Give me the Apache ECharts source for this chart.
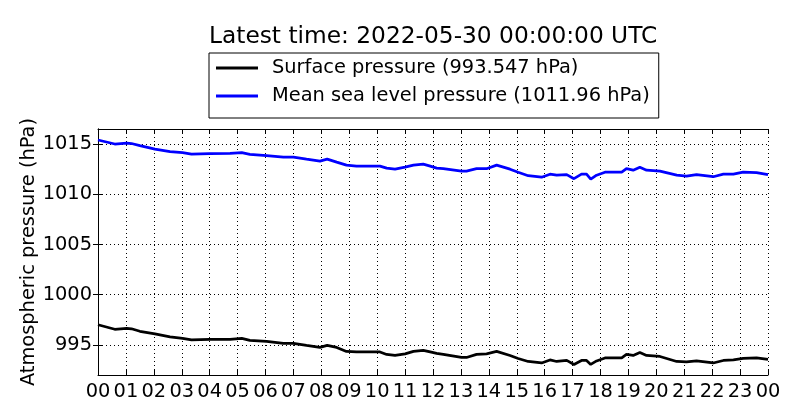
<!DOCTYPE html>
<html>
<head>
<meta charset="utf-8">
<script src="https://cdn.jsdelivr.net/npm/echarts@6/dist/echarts.min.js"></script>
<style>
  html, body { margin: 0; padding: 0; background: #fff; }
  #chart { width: 800px; height: 420px; }
</style>
</head>
<body>
<div id="chart"></div>
<script>
// hours since 2022-05-29 00:00 UTC
const hours = [
  0, 0.6, 1.03, 1.2, 1.5, 2.04, 2.58, 3.03, 3.35, 4.0, 4.73, 5.15, 5.44, 6.04, 6.64, 7.0,
  7.47, 7.95, 8.21, 8.55, 8.9, 9.26, 10.1, 10.34, 10.64, 11.0, 11.3, 11.65, 11.9, 12.13,
  12.37, 13.02, 13.2, 13.56, 13.92, 14.28, 14.76, 15.05, 15.41, 15.89, 16.19, 16.43, 16.79,
  17.05, 17.32, 17.5, 17.65, 17.86, 18.16, 18.76, 18.93, 19.17, 19.41, 19.65, 20.13, 20.73,
  21.08, 21.44, 22.04, 22.4, 22.76, 23.11, 23.59, 24
];
const surfacePressure = [
  997.0, 996.55, 996.65, 996.6, 996.35, 996.1, 995.8, 995.65, 995.5, 995.55, 995.55, 995.65,
  995.45, 995.35, 995.15, 995.15, 994.95, 994.75, 994.95, 994.75, 994.35, 994.3, 994.3,
  994.05, 993.95, 994.1, 994.35, 994.45, 994.3, 994.15, 994.05, 993.75, 993.75, 994.05,
  994.1, 994.35, 993.95, 993.65, 993.35, 993.2, 993.5, 993.35, 993.45, 993.05, 993.45,
  993.45, 993.05, 993.4, 993.7, 993.7, 994.05, 993.95, 994.25, 993.95, 993.85, 993.35,
  993.3, 993.4, 993.2, 993.45, 993.5, 993.65, 993.7, 993.55
];
const seaLevelPressure = [
  1015.4, 1015.0, 1015.1, 1015.05, 1014.85, 1014.5, 1014.25, 1014.15, 1014.0, 1014.05,
  1014.07, 1014.15, 1013.97, 1013.85, 1013.7, 1013.7, 1013.5, 1013.3, 1013.5, 1013.2,
  1012.9, 1012.8, 1012.8, 1012.6, 1012.5, 1012.7, 1012.9, 1013.0, 1012.8, 1012.6, 1012.55,
  1012.3, 1012.3, 1012.55, 1012.55, 1012.9, 1012.5, 1012.2, 1011.85, 1011.7, 1012.0,
  1011.9, 1011.95, 1011.55, 1012.0, 1012.0, 1011.5, 1011.9, 1012.2, 1012.2, 1012.55,
  1012.4, 1012.7, 1012.4, 1012.3, 1011.9, 1011.8, 1011.95, 1011.75, 1012.0, 1012.0,
  1012.2, 1012.15, 1011.96
];
const hourLabels = ['00','01','02','03','04','05','06','07','08','09','10','11','12',
  '13','14','15','16','17','18','19','20','21','22','23','00'];
const pressureTicks = [995, 1000, 1005, 1010, 1015];

const FONT = 'DejaVu Sans';

const chart = echarts.init(document.getElementById('chart'), null, { renderer: 'canvas' });

// frame: top and right axes only carry inward ticks
const hiddenX = {
  type: 'value', min: 0, max: 24, interval: 1, position: 'top',
  axisLine: { show: true, lineStyle: { color: '#000', width: 1 } },
  axisTick: { show: true, inside: true, length: 5, lineStyle: { color: '#000' } },
  axisLabel: { show: false }, splitLine: { show: false }
};
const hiddenY = {
  type: 'value', min: 992, max: 1016.5, position: 'right',
  axisLine: { show: true, lineStyle: { color: '#000', width: 1 } },
  axisTick: { show: true, inside: true, length: 5, customValues: pressureTicks, lineStyle: { color: '#000' } },
  axisLabel: { show: false, customValues: pressureTicks }, splitLine: { show: false }
};

chart.setOption({
  animation: false,
  backgroundColor: '#fff',
  title: {
    text: 'Latest time: 2022-05-30 00:00:00 UTC',
    left: 204, top: 20,
    textStyle: { fontFamily: FONT, fontSize: 23.3, fontWeight: 'normal', color: '#000' }
  },
  legend: {
    orient: 'vertical',
    left: 209, top: 53,
    padding: [4, 9, 11, 7],
    itemGap: 6,
    itemWidth: 42, itemHeight: 3,
    icon: 'rect',
    borderColor: '#000', borderWidth: 1, borderRadius: 0,
    textStyle: { fontFamily: FONT, fontSize: 19.4, color: '#000', lineHeight: 22, padding: [0, 0, 0, 9] },
    data: ['Surface pressure (993.547 hPa)', 'Mean sea level pressure (1011.96 hPa)']
  },
  grid: { left: 98, right: 32, top: 129, bottom: 45 },
  xAxis: [{
    type: 'value', min: 0, max: 24, interval: 1,
    axisLine: { show: true, lineStyle: { color: '#000', width: 1 } },
    axisTick: { show: true, inside: true, length: 5, lineStyle: { color: '#000' } },
    axisLabel: {
      fontFamily: FONT, fontSize: 19.4, color: '#000', margin: 7,
      formatter: v => hourLabels[v]
    },
    splitLine: { show: true, lineStyle: { color: '#000', width: 1, type: [1, 3] } }
  }, hiddenX],
  yAxis: [{
    type: 'value', min: 992, max: 1016.5,
    name: 'Atmospheric pressure (hPa)',
    nameLocation: 'middle', nameGap: 60, nameMoveOverlap: false,
    nameTextStyle: { fontFamily: FONT, fontSize: 19.4, color: '#000' },
    axisLine: { show: true, lineStyle: { color: '#000', width: 1 } },
    axisTick: { show: true, inside: true, length: 5, customValues: pressureTicks, lineStyle: { color: '#000' } },
    axisLabel: {
      fontFamily: FONT, fontSize: 19.4, color: '#000', margin: 6, customValues: pressureTicks,
      formatter: v => String(v)
    },
    splitLine: { show: true, lineStyle: { color: '#000', width: 1, type: [1, 3] } }
  }, hiddenY],
  series: [{
    name: 'Surface pressure (993.547 hPa)',
    type: 'line', symbol: 'none',
    color: '#000',
    lineStyle: { color: '#000', width: 2.7 },
    data: hours.map((h, i) => [h, surfacePressure[i]])
  }, {
    name: 'Mean sea level pressure (1011.96 hPa)',
    type: 'line', symbol: 'none',
    color: '#0000ff',
    lineStyle: { color: '#0000ff', width: 2.7 },
    data: hours.map((h, i) => [h, seaLevelPressure[i]])
  }]
});
</script>
</body>
</html>
